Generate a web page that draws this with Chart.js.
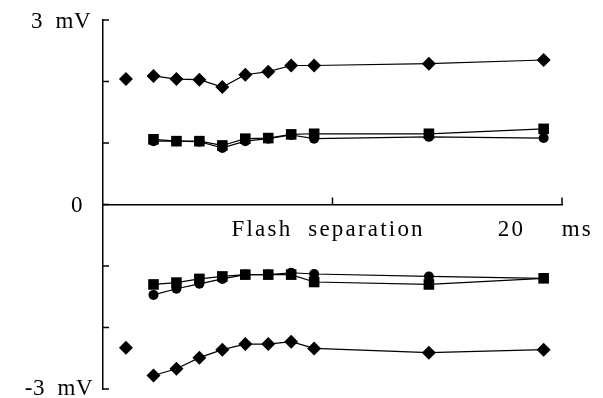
<!DOCTYPE html>
<html>
<head>
<meta charset="utf-8">
<script src="https://cdn.jsdelivr.net/npm/chart.js@4"></script>
<style>
  body { margin: 0; background: #fff; }
  canvas { display: block; }
</style>
</head>
<body>
<canvas id="flashChart" width="603" height="398"></canvas>
<script>
// flash separation in ms
var singleX = [1.0];
var sepX = [2.2, 3.2, 4.2, 5.2, 6.2, 7.2, 8.2, 9.2, 14.2, 19.2];

// single flash responses (mV)
var singleTop = [2.04];
var singleBottom = [-2.33];

// paired flash responses (mV)
var diamondTop = [2.09, 2.04, 2.03, 1.91, 2.11, 2.16, 2.26, 2.26, 2.29, 2.35];
var squareTop = [1.06, 1.03, 1.03, 0.96, 1.07, 1.08, 1.14, 1.15, 1.15, 1.23];
var circleTop = [1.03, 1.03, 1.02, 0.92, 1.03, 1.07, 1.13, 1.07, 1.10, 1.08];
var squareBottom = [-1.30, -1.27, -1.21, -1.17, -1.14, -1.14, -1.14, -1.26, -1.30, -1.20];
var circleBottom = [-1.47, -1.37, -1.29, -1.21, -1.14, -1.14, -1.11, -1.13, -1.17, -1.20];
var diamondBottom = [-2.78, -2.67, -2.49, -2.36, -2.27, -2.27, -2.23, -2.34, -2.41, -2.36];

var yTicks = [3, 2, 1, 0, -1, -2, -3];
var yLabels = {'3': '3  mV', '0': '0', '-3': '-3  mV'};
var xTicks = [10, 20];

function pts(xs, ys) {
    return xs.map(function(x, i) { return {x: x, y: ys[i]}; });
}

function series(xs, ys, style, r, showLine) {
    return {
        data: pts(xs, ys),
        showLine: showLine,
        borderColor: '#000',
        backgroundColor: '#000',
        borderWidth: 1.2,
        pointStyle: style,
        pointRadius: r,
        pointBorderWidth: 0,
        clip: false
    };
}

// tick marks and the free text labels
var decorations = {
    id: 'decorations',
    afterDraw: function(chart) {
        var c = chart.ctx;
        var xs = chart.scales.x, ys = chart.scales.y;
        var x0 = xs.getPixelForValue(0), y0 = ys.getPixelForValue(0);
        c.save();
        c.strokeStyle = '#000';
        c.lineWidth = 1.5;
        c.beginPath();
        yTicks.forEach(function(v) {
            var y = ys.getPixelForValue(v);
            c.moveTo(x0, y);
            c.lineTo(x0 + 6, y);
        });
        xTicks.forEach(function(v) {
            var x = xs.getPixelForValue(v);
            c.moveTo(x, y0);
            c.lineTo(x, y0 - 7);
        });
        c.stroke();

        c.fillStyle = '#000';
        c.font = '23px "Liberation Serif"';
        c.textAlign = 'right';
        c.textBaseline = 'middle';
        c.letterSpacing = '0.5px';
        c.fillText(yLabels['3'], x0 - 12, ys.getPixelForValue(3) + 2);
        c.fillText(yLabels['0'], x0 - 20, y0 + 1);
        c.fillText(yLabels['-3'], x0 - 10, ys.getPixelForValue(-3));
        c.textBaseline = 'top';
        c.letterSpacing = '2.2px';
        c.textAlign = 'left';
        c.fillText('Flash  separation', xs.getPixelForValue(5.6), y0 + 14);
        c.fillText('20', xs.getPixelForValue(17.2), y0 + 14);
        c.textAlign = 'right';
        c.fillText('ms', 593, y0 + 14);
        c.restore();
    }
};

new Chart(document.getElementById('flashChart'), {
    type: 'scatter',
    data: {
        datasets: [
            series(sepX, diamondTop, 'rectRot', 7, true),
            series(sepX, circleTop, 'circle', 5, true),
            series(sepX, squareTop, 'rect', 7.5, true),
            series(sepX, circleBottom, 'circle', 5, true),
            series(sepX, squareBottom, 'rect', 7.5, true),
            series(sepX, diamondBottom, 'rectRot', 7, true),
            series(singleX, singleTop, 'rectRot', 7, false),
            series(singleX, singleBottom, 'rectRot', 7, false)
        ]
    },
    options: {
        responsive: false,
        animation: false,
        layout: { padding: { left: 103, right: 41, top: 20, bottom: 9 } },
        plugins: { legend: { display: false }, tooltip: { enabled: false } },
        elements: { line: { tension: 0 } },
        scales: {
            x: {
                type: 'linear',
                min: 0, max: 20,
                position: { y: 0 },
                grid: { display: false, drawTicks: false },
                border: { display: true, color: '#000', width: 1.5 },
                ticks: { display: false }
            },
            y: {
                min: -3, max: 3,
                grid: { display: false, drawTicks: false },
                border: { display: true, color: '#000', width: 1.5 },
                ticks: { display: false }
            }
        }
    },
    plugins: [decorations]
});
</script>
</body>
</html>
